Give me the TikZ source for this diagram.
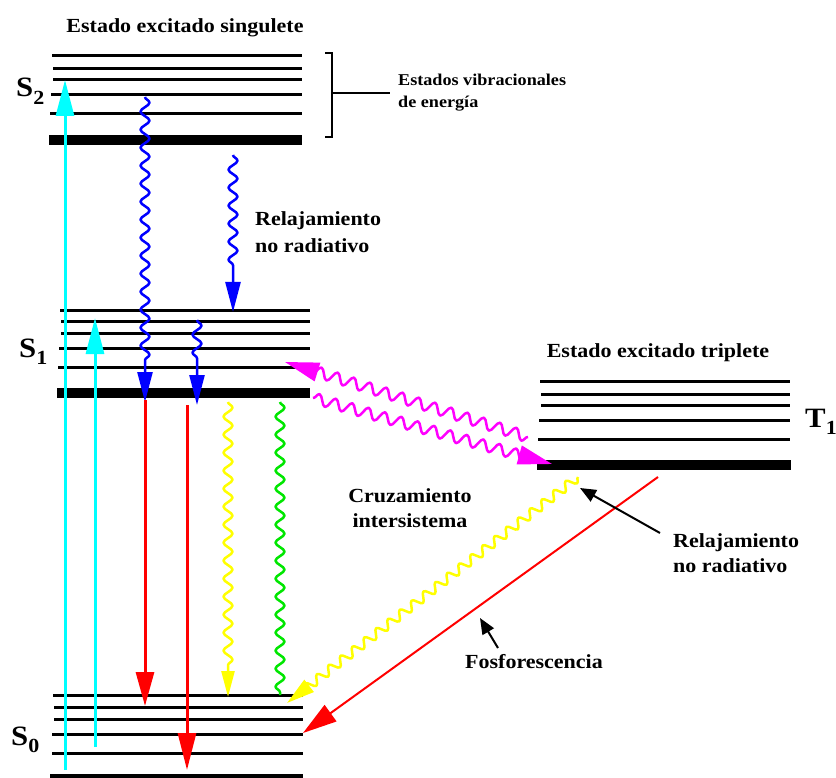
\documentclass[tikz,border=0pt]{standalone}
\usepackage{fontspec}
\setmainfont{Liberation Serif}[FakeStretch=1.1]
\usetikzlibrary{arrows.meta,decorations.pathmorphing}
\definecolor{cyn}{RGB}{0,255,255}
\definecolor{blu}{RGB}{0,0,255}
\definecolor{rd}{RGB}{255,0,0}
\definecolor{ylw}{RGB}{255,255,0}
\definecolor{grn}{RGB}{0,230,0}
\definecolor{mag}{RGB}{255,0,255}
\newcommand{\lvlsub}[2]{#1\raisebox{-0.28em}{\fontsize{20}{20}\selectfont #2}}
\begin{document}
\begin{tikzpicture}[x=1pt,y=-1pt,
  lev/.style={line width=3pt},
  levthick/.style={line width=10pt},
  txt/.style={font=\fontsize{20}{26}\selectfont\bfseries, inner sep=0pt},
  smalltxt/.style={font=\fontsize{16.5}{22}\selectfont\bfseries, inner sep=0pt},
  biglbl/.style={font=\fontsize{28}{28}\selectfont\bfseries, inner sep=0pt},
  wave/.style={line width=2.5pt, line join=round, decorate, decoration={snake, amplitude=4.5pt, segment length=18pt, #1}},
  wave/.default={},
  dwave/.style={line width=2.5pt, line join=round, decorate, decoration={snake, amplitude=5.5pt, segment length=17pt, #1}},
  dwave/.default={},
]
\useasboundingbox (0,0) rectangle (836,778);

% ---------- S2 levels
\foreach \y/\a in {56/52,69/53,80/53,95/51,114/50} \draw[lev] (\a,\y) -- (302,\y);
\draw[levthick] (49,140) -- (302,140);
% ---------- S1 levels
\foreach \y/\a in {311/60,322/61,334/61,348/59,367/58} \draw[lev] (\a,\y) -- (310,\y);
\draw[levthick] (57,393) -- (310,393);
% ---------- T1 levels
\foreach \y/\a in {381/540,394/541,405/541,420/539,439/538} \draw[lev] (\a,\y) -- (790,\y);
\draw[levthick] (537,465) -- (791,465);
% ---------- S0 levels
\foreach \y/\a in {695/53,707/54,719/54,734/52,753/52} \draw[lev] (\a,\y) -- (303,\y);
\draw[line width=5pt] (50,776) -- (303,776);

% ---------- labels of levels
\node[biglbl, anchor=base west] (s2) at (16,97) {\lvlsub{S}{2}};
\node[biglbl, anchor=base west] (s1) at (19,357) {\lvlsub{S}{1}};
\node[biglbl, anchor=base west] (s0) at (11,745) {\lvlsub{S}{0}};
\node[biglbl, anchor=base west] (t1) at (805,427) {\lvlsub{T}{1}};

% ---------- bracket
\coordinate (bt) at (332,53);
\coordinate (bb) at (332,137);
\coordinate (bm) at (332,93);
\coordinate (be) at (390,93);
\draw[line width=2pt] ([xshift=-7pt]bt) -- (bt) -- (bb) -- ([xshift=-7pt]bb);
\draw[line width=2pt] (bm) -- (be);

% ---------- texts
\node[txt, anchor=base] (tsing) at (185,33) {Estado excitado singulete};
\node[txt, anchor=base] (ttrip) at (658,357) {Estado excitado triplete};
\node[smalltxt, anchor=north west, align=left] (tvib) at (398,74) {Estados vibracionales\\de energía};
\node[txt, anchor=north west, align=left, font=\fontsize{20}{27}\selectfont\bfseries] (trel1) at (255,211) {Relajamiento\\no radiativo};
\node[txt, anchor=north, align=center, font=\fontsize{20}{25}\selectfont\bfseries] (tcruz) at (410,488) {Cruzamiento\\intersistema};
\node[txt, anchor=north west, align=left, font=\fontsize{20}{25}\selectfont\bfseries] (trel2) at (673,533) {Relajamiento\\no radiativo};
\node[txt, anchor=base] (tfos) at (534,668) {Fosforescencia};

% ---------- coordinates of transitions
\coordinate (c1a) at (65,770);  \coordinate (c1b) at (65,80);
\coordinate (c2a) at (95,747);  \coordinate (c2b) at (95,318);
\coordinate (b1a) at (145,97);  \coordinate (b1b) at (145,402);
\coordinate (b2a) at (197,320); \coordinate (b2b) at (197,405);
\coordinate (b3a) at (233,155); \coordinate (b3b) at (233,312);
\coordinate (r1a) at (145,400); \coordinate (r1b) at (145,706);
\coordinate (r2a) at (187,405); \coordinate (r2b) at (187,770);
\coordinate (y1a) at (228,402); \coordinate (y1b) at (228,697);
\coordinate (g1a) at (280,402); \coordinate (g1b) at (280,695);
\coordinate (m1a) at (528,437); \coordinate (m1b) at (285,362);
\coordinate (m2a) at (313,398); \coordinate (m2b) at (552,464);
\coordinate (y2a) at (578,477); \coordinate (y2b) at (287,703);
\coordinate (r3a) at (658,477); \coordinate (r3b) at (303,733);
\coordinate (k1a) at (660,533); \coordinate (k1b) at (580,488);
\coordinate (k2a) at (498,648); \coordinate (k2b) at (480,618);

% ---------- absorption
\draw[cyn, line width=3pt, -{Triangle[length=36pt,width=18pt]}] (c1a) -- (c1b);
\draw[cyn, line width=3pt, -{Triangle[length=36pt,width=18pt]}] (c2a) -- (c2b);

% ---------- vibrational relaxation
\draw[blu, wave={post length=40pt}, -{Triangle[length=30pt,width=15pt]}] (b1a) -- (b1b);
\draw[blu, wave={post length=38pt}, -{Triangle[length=30pt,width=15pt]}] (b2a) -- (b2b);
\draw[blu, wave={post length=38pt}, -{Triangle[length=30pt,width=15pt]}] (b3a) -- (b3b);

% ---------- fluorescence
\draw[rd, line width=3pt, -{Triangle[length=34pt,width=18pt]}] (r1a) -- (r1b);
\draw[rd, line width=3pt, -{Triangle[length=37pt,width=18pt]}] (r2a) -- (r2b);

% ---------- internal conversion
\draw[ylw, wave={post length=30pt}, -{Triangle[length=26pt,width=13pt]}] (y1a) -- (y1b);
\draw[grn, wave] (g1a) -- (g1b);

% ---------- intersystem crossing
\draw[mag, dwave={post length=20pt}, -{Triangle[length=34pt,width=19pt]}] (m1a) -- (m1b);
\draw[mag, dwave={post length=20pt}, -{Triangle[length=34pt,width=19pt]}] (m2a) -- (m2b);

% ---------- T1 -> S0
\draw[ylw, line width=2.5pt, line join=round, decorate, decoration={snake, amplitude=4.5pt, segment length=15pt, post length=20pt}, -{Triangle[length=28pt,width=15pt]}] (y2a) -- (y2b);
\draw[rd, line width=2pt, -{Triangle[length=34pt,width=20pt]}] (r3a) -- (r3b);

% ---------- pointers
\draw[black, line width=2pt, -{Triangle[length=16pt,width=13pt]}] (k1a) -- (k1b);
\draw[black, line width=2pt, -{Triangle[length=16pt,width=13pt]}] (k2a) -- (k2b);
\end{tikzpicture}
\end{document}
